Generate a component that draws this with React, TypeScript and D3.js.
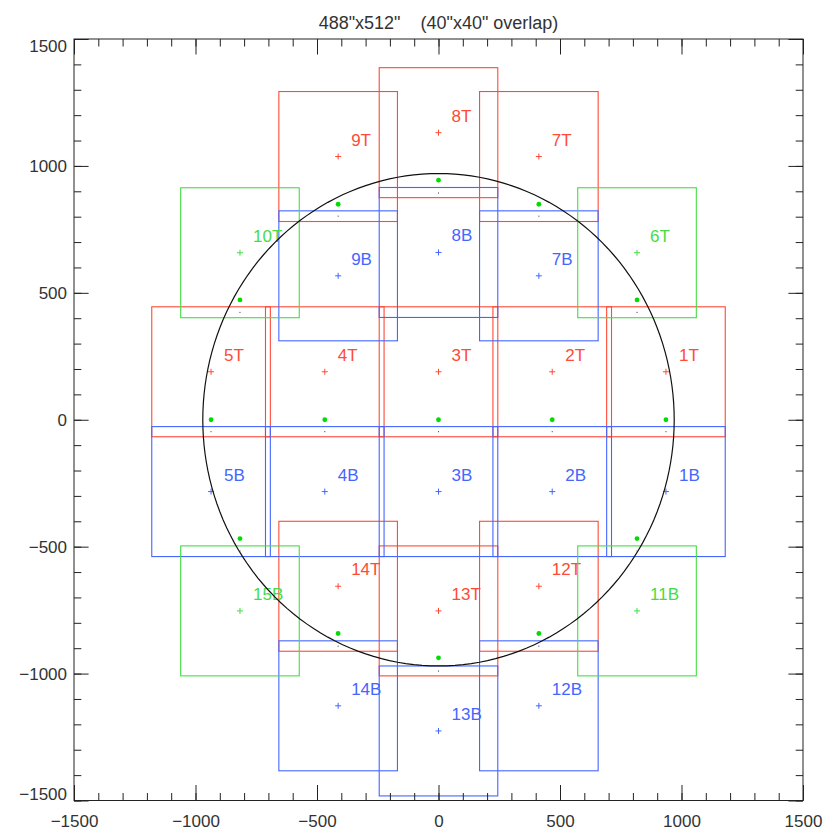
import * as d3 from 'd3';
import React, { useEffect, useRef } from 'react';

// Mosaic footprint plot: 488"x512" fields around a 970" circle
const title = '488"x512"    (40"x40" overlap)';
const axisDomain: [number, number] = [-1500, 1500];
const fieldW = 488;
const fieldH = 512;
const circleR = 970;

// red "T" fields
const redLabels = ['1T', '2T', '3T', '4T', '5T', '7T', '8T', '9T', '12T', '13T', '14T'];
const redX = [936, 468, 0, -468, -936, 413, 0, -413, 413, 0, -413];
const redY = [189, 189, 189, 189, 189, 1037, 1131, 1037, -656, -753, -656];

// blue "B" fields
const blueLabels = ['1B', '2B', '3B', '4B', '5B', '7B', '8B', '9B', '12B', '13B', '14B'];
const blueX = [936, 468, 0, -468, -936, 413, 0, -413, 413, 0, -413];
const blueY = [-283, -283, -283, -283, -283, 567, 659, 567, -1127, -1226, -1127];

// green fields
const greenLabels = ['6T', '10T', '11B', '15B'];
const greenX = [817, -817, 817, -817];
const greenY = [658, 658, -753, -753];

// pointing centres (green dots) and pair centres (small black dots)
const dotX = [936, 468, 0, -468, -936, 817, 413, 0, -413, -817, 817, 413, 0, -413, -817];
const dotY = [0, 0, 0, 0, 0, 472, 849, 944, 849, 472, -468, -842, -938, -842, -468];
const pairX = [936, 468, 0, -468, -936, 817, 413, 0, -413, -817, 817, 413, 0, -413, -817];
const pairY = [-47, -47, -47, -47, -47, 423, 802, 893, 802, 423, -517, -892, -990, -892, -517];

const RED = '#ff4a36';
const BLUE = '#4466ff';
const GREEN = '#44dd44';
const DOT = '#00dd00';
const FONT = '"Liberation Sans", Arial, sans-serif';

export default function App() {
  const svgRef = useRef<SVGSVGElement>(null);

  useEffect(() => {
    if (!svgRef.current) return;
    const svg = d3.select(svgRef.current);
    svg.selectAll('*').remove();

    const left = 74, right = 803, top = 39, bottom = 800.5;
    const x = d3.scaleLinear().domain(axisDomain).range([left, right]);
    const y = d3.scaleLinear().domain(axisDomain).range([bottom, top]);

    const drawFields = (labels: string[], xs: number[], ys: number[], color: string) => {
      const g = svg.append('g');
      g.selectAll('rect')
        .data(labels)
        .join('rect')
        .attr('x', (_, i) => x(xs[i] - fieldW / 2))
        .attr('y', (_, i) => y(ys[i] + fieldH / 2))
        .attr('width', x(fieldW) - x(0))
        .attr('height', y(0) - y(fieldH))
        .attr('fill', 'none')
        .attr('stroke', color)
        .attr('stroke-width', 1.1);
      g.selectAll('path')
        .data(labels)
        .join('path')
        .attr('d', (_, i) => {
          const cx = x(xs[i]), cy = y(ys[i]);
          return `M${cx - 3},${cy}H${cx + 3}M${cx},${cy - 3}V${cy + 3}`;
        })
        .attr('stroke', color)
        .attr('stroke-width', 1);
      g.selectAll('text')
        .data(labels)
        .join('text')
        .attr('x', (_, i) => x(xs[i]) + 13)
        .attr('y', (_, i) => y(ys[i]) - 11)
        .attr('fill', color)
        .attr('font-size', 17)
        .attr('font-family', FONT)
        .text(d => d);
    };

    drawFields(redLabels, redX, redY, RED);
    drawFields(blueLabels, blueX, blueY, BLUE);
    drawFields(greenLabels, greenX, greenY, GREEN);

    // outline circle
    const circlePts = d3.range(0, 361, 2).map(a => [
      circleR * Math.cos((a * Math.PI) / 180),
      circleR * Math.sin((a * Math.PI) / 180),
    ]);
    svg.append('path')
      .attr('d', d3.line().x(d => x(d[0])).y(d => y(d[1]))(circlePts as [number, number][]))
      .attr('fill', 'none')
      .attr('stroke', '#111')
      .attr('stroke-width', 1.2);

    svg.append('g')
      .selectAll('circle')
      .data(dotX)
      .join('circle')
      .attr('cx', (d) => x(d))
      .attr('cy', (_, i) => y(dotY[i]))
      .attr('r', 2.4)
      .attr('fill', DOT);

    svg.append('g')
      .selectAll('rect')
      .data(pairX)
      .join('rect')
      .attr('x', (d) => x(d) - 0.5)
      .attr('y', (_, i) => y(pairY[i]) - 0.5)
      .attr('width', 1)
      .attr('height', 1)
      .attr('fill', '#333');

    // axes, IDL style: inward ticks on all four sides
    const major = d3.range(-1500, 1501, 500);
    const minor = d3.range(-1500, 1501, 100);
    const fmt = (d: d3.NumberValue) => (Number(d) < 0 ? '\u2212' + Math.abs(Number(d)) : String(d));

    const styleAxis = (g: d3.Selection<SVGGElement, unknown, null, undefined>) => {
      g.select('.domain').remove();
      g.selectAll('line').attr('stroke', '#222');
      g.selectAll('text').attr('fill', '#333').attr('font-size', 17).attr('font-family', FONT);
    };

    const bottomG = svg.append('g').attr('transform', `translate(0,${bottom})`);
    bottomG.append('g').call(d3.axisBottom(x).tickValues(minor).tickSize(-7.5).tickFormat(() => '')).call(styleAxis);
    bottomG.append('g').call(d3.axisBottom(x).tickValues(major).tickSize(-15.5).tickPadding(14).tickFormat(fmt)).call(styleAxis);

    const topG = svg.append('g').attr('transform', `translate(0,${top})`);
    topG.append('g').call(d3.axisTop(x).tickValues(minor).tickSize(-7.5).tickFormat(() => '')).call(styleAxis);
    topG.append('g').call(d3.axisTop(x).tickValues(major).tickSize(-15.5).tickFormat(() => '')).call(styleAxis);

    const leftG = svg.append('g').attr('transform', `translate(${left},0)`);
    leftG.append('g').call(d3.axisLeft(y).tickValues(minor).tickSize(-7.3).tickFormat(() => '')).call(styleAxis);
    leftG.append('g').call(d3.axisLeft(y).tickValues(major).tickSize(-14.6).tickPadding(7).tickFormat(fmt)).call(styleAxis);
    // keep the end labels inside the frame like the original
    leftG.selectAll('text')
      .filter((d: any) => Math.abs(d) === 1500)
      .attr('dy', (d: any) => (d > 0 ? '0.75em' : '-0.05em'));

    const rightG = svg.append('g').attr('transform', `translate(${right},0)`);
    rightG.append('g').call(d3.axisRight(y).tickValues(minor).tickSize(-7.3).tickFormat(() => '')).call(styleAxis);
    rightG.append('g').call(d3.axisRight(y).tickValues(major).tickSize(-14.6).tickFormat(() => '')).call(styleAxis);

    svg.append('rect')
      .attr('x', left)
      .attr('y', top)
      .attr('width', right - left)
      .attr('height', bottom - top)
      .attr('fill', 'none')
      .attr('stroke', '#222')
      .attr('stroke-width', 1);

    svg.append('text')
      .attr('x', (left + right) / 2)
      .attr('y', 29)
      .attr('text-anchor', 'middle')
      .attr('fill', '#333')
      .attr('font-size', 18)
      .attr('font-family', FONT)
      .style('white-space', 'pre')
      .text(title);
  }, []);

  return (
    <svg
      ref={svgRef}
      width={827}
      height={830}
      style={{ position: 'absolute', left: 0, top: 0, background: '#fff' }}
    />
  );
}
